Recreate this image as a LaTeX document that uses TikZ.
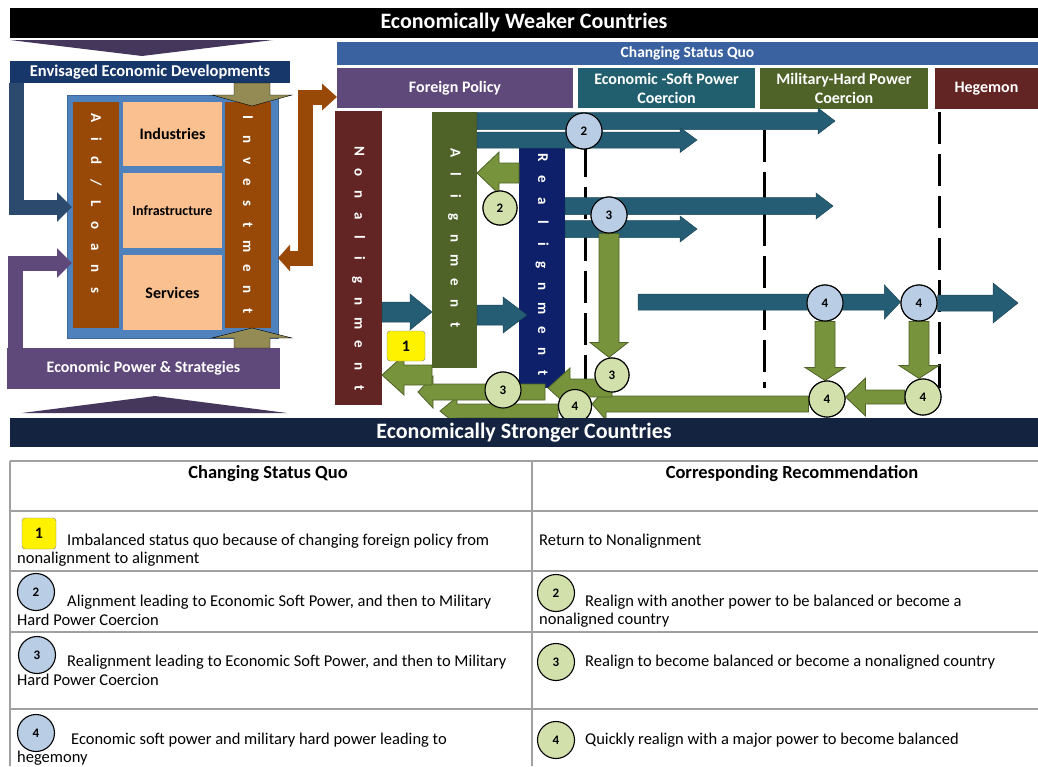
\documentclass[tikz,border=0pt]{standalone}
\usepackage{fontspec}
\setmainfont{Carlito}
\usetikzlibrary{calc,arrows.meta}

\definecolor{navybar}{HTML}{14233F}
\definecolor{chev}{HTML}{45365C}
\definecolor{envblue}{HTML}{17376A}
\definecolor{elbowblue}{HTML}{2B4A6E}
\definecolor{purp}{HTML}{5F497A}
\definecolor{frameblue}{HTML}{4F81BD}
\definecolor{rust}{HTML}{984807}
\definecolor{peach}{HTML}{FAC090}
\definecolor{khaki}{HTML}{948A54}
\definecolor{csqblue}{HTML}{3A62A0}
\definecolor{tealbox}{HTML}{215F6E}
\definecolor{olive}{HTML}{4F6228}
\definecolor{darkred}{HTML}{632523}
\definecolor{realblue}{HTML}{0E206A}
\definecolor{tealarr}{HTML}{255E74}
\definecolor{grnarr}{HTML}{77933C}
\definecolor{lblue}{HTML}{B9CDE5}
\definecolor{lgreen}{HTML}{D2E1AC}
\definecolor{tline}{HTML}{A0A0A0}

\newcommand{\fsz}[2]{\fontsize{#1}{#2}\selectfont}
\newcommand{\vword}[1]{\foreach \vletter in {#1}{\makebox[21.5pt]{\vletter}}}

\tikzset{
  panel/.style={fill=#1, anchor=north west, inner sep=0pt, outer sep=0pt, text=white,
    align=center, font=\bfseries\fsz{16}{19}},
  colbar/.style={fill=#1, anchor=north west, inner sep=0pt, outer sep=0pt},
  vtext/.style={rotate=-90, text=white, inner sep=0pt, font=\bfseries\fsz{15}{17}},
  bnum/.style={circle, draw=black, line width=1.1pt, fill=lblue, minimum size=36pt,
    inner sep=0pt, font=\bfseries\fsz{13}{15}},
  gnum/.style={bnum, fill=lgreen},
  tarrow/.style={fill=tealarr, draw=tealarr!75!black, line width=0.5pt},
  garrow/.style={fill=grnarr, draw=olive, line width=0.8pt},
  karrow/.style={fill=khaki},
  harrow/.style n args={3}{to path={
    let \p1=(\tikztostart), \p2=(\tikztotarget),
        \p3=($(\tikztotarget)!#3!(\tikztostart)$) in
    (\x1,\y1+#1) -- (\x3,\y1+#1) -- (\x3,\y1+#2) -- (\x2,\y1)
    -- (\x3,\y1-#2) -- (\x3,\y1-#1) -- (\x1,\y1-#1) -- cycle}},
  varrow/.style n args={3}{to path={
    let \p1=(\tikztostart), \p2=(\tikztotarget),
        \p3=($(\tikztotarget)!#3!(\tikztostart)$) in
    (\x1+#1,\y1) -- (\x1+#1,\y3) -- (\x1+#2,\y3) -- (\x1,\y2)
    -- (\x1-#2,\y3) -- (\x1-#1,\y3) -- (\x1-#1,\y1) -- cycle}},
  elbow/.style={line width=15pt, line join=miter, -{Triangle[length=15pt,width=29pt]}},
  dashcol/.style={line width=3pt, dash pattern=on 32pt off 10pt},
  tabline/.style={draw=tline, line width=1.2pt},
  cell/.style={anchor=west, inner sep=0pt, font=\fsz{16.5}{19}},
  cellhead/.style={inner sep=0pt, font=\bfseries\fsz{18.5}{21}}
}

\begin{document}
\begin{tikzpicture}[x=1pt,y=-1pt]
\useasboundingbox (0,0) rectangle (1038,766);

% left panel
\node[panel=black, minimum width=1028pt, minimum height=30pt, font=\bfseries\fsz{22}{24}] (weak) at (10,8) {Economically Weaker Countries};
\fill[chev] (10,40) -- (273,40) -- (142,56) -- cycle;
\node[panel=envblue, minimum width=280pt, minimum height=22pt, font=\bfseries\fsz{16.5}{19}] (envis) at (10,61) {Envisaged Economic Developments};
\node[panel=purp, minimum width=273pt, minimum height=41pt] (econpow) at (7,348) {Economic Power \& Strategies};
\fill[chev] (22,413) -- (287,413) -- (155,396) -- cycle;

\node[colbar=frameblue, draw=frameblue!80!black, line width=1pt, minimum width=211pt, minimum height=243pt] (frame) at (67,95) {};
\node[colbar=rust, minimum width=46pt, minimum height=226pt] (aid) at (73,102) {};
\node[colbar=rust, minimum width=46pt, minimum height=226pt] (invest) at (225,102) {};
\node[panel=peach, text=black, minimum width=99pt, minimum height=64pt] (ind) at (123,102) {Industries};
\node[panel=peach, text=black, minimum width=99pt, minimum height=75pt, font=\bfseries\fsz{14}{16}] (infra) at (123,173) {Infrastructure};
\node[panel=peach, text=black, minimum width=99pt, minimum height=75pt] (serv) at (123,255) {Services};
\node[vtext] at (96,204) {\vword{A,i,d,/,L,o,a,n,s}};
\node[vtext] at (248,214.5) {\vword{I,n,v,e,s,t,m,e,n,t}};

\coordinate (kt) at (252,106);
\coordinate (kb) at (252,328);
\draw[karrow] (envis.south -| kt) to[varrow={18pt}{40pt}{11pt}] (kt);
\draw[karrow] (econpow.north -| kb) to[varrow={18pt}{40pt}{10pt}] (kb);

\coordinate (ein) at (72,207);
\coordinate (pin) at (72,263);
\draw[elbow, elbowblue] ([xshift=6.5pt]envis.south west) |- (ein);
\draw[elbow, purp] ([xshift=8pt]econpow.north west) |- (pin);

% right panel
\node[panel=csqblue, minimum width=701pt, minimum height=23pt, font=\bfseries\fsz{15.5}{18}] (csq) at (337,42) {Changing Status Quo};
\node[panel=purp, minimum width=236pt, minimum height=40pt] (fp) at (337,68) {Foreign Policy};
\node[panel=tealbox, minimum width=177pt, minimum height=40pt] (esp) at (578,68) {Economic -Soft Power\\Coercion};
\node[panel=olive, minimum width=168pt, minimum height=41pt] (mhp) at (760,68) {Military-Hard Power\\Coercion};
\node[panel=darkred, minimum width=103pt, minimum height=41pt] (heg) at (935,68) {Hegemon};

\draw[elbow, rust, {Triangle[length=12pt,width=26pt]}-{Triangle[length=15pt,width=26pt]}]
  (frame.east |- 0,258) -| (305,97) -- (fp.west |- 0,97);

\node[colbar=darkred, minimum width=47pt, minimum height=294pt] (nonal) at (335,111) {};
\node[colbar=olive, minimum width=45pt, minimum height=256pt] (align) at (432,112) {};
\node[colbar=realblue, minimum width=46pt, minimum height=243pt] (realign) at (519,145) {};
\node[vtext] at (358.5,269.5) {\vword{N,o,n,a,l,i,g,n,m,e,n,t}};
\node[vtext] at (454.5,239) {\vword{A,l,i,g,n,m,e,n,t}};
\node[vtext] at (542,265.5) {\vword{R,e,a,l,i,g,n,m,e,n,t}};

\draw[dashcol] (585,145) -- (585,388);
\draw[dashcol] (764,130) -- (764,388);
\draw[dashcol] (939,112) -- (939,388);

\node[bnum] (b2) at (584,131) {2};
\node[bnum] (b3) at (609,215) {3};
\node[bnum] (b4a) at (825,303) {4};
\node[bnum] (b4b) at (919,303) {4};
\node[gnum, minimum size=34pt] (g2) at (500,208) {2};
\node[gnum, minimum size=34pt] (g3a) at (612,375) {3};
\node[gnum] (g3b) at (503,390) {3};
\node[gnum, minimum size=33pt] (g4a) at (575,406) {4};
\node[gnum] (g4b) at (827,399) {4};
\node[gnum] (g4c) at (923,397) {4};

\coordinate (t2a) at (835,121);
\coordinate (t2b) at (697,140);
\coordinate (t3a) at (833,206);
\coordinate (t3b) at (697,229);
\coordinate (t4s) at (638,302);
\coordinate (t4e) at (1018,302);
\coordinate (t1r) at (527,315);
\coordinate (g3l) at (548,388);
\coordinate (g3s) at (545,392);
\coordinate (g3e) at (418,392);
\coordinate (g4e) at (440,411);

% teal arrows
\draw[tarrow] (align.east |- 0,121) to[harrow={8.5pt}{13pt}{17pt}] (t2a);
\draw[tarrow] (align.east |- 0,140) to[harrow={8pt}{12.5pt}{17pt}] (t2b);
\draw[tarrow] (realign.east |- 0,206) to[harrow={8.5pt}{13pt}{17pt}] (t3a);
\draw[tarrow] (realign.east |- 0,229) to[harrow={8.5pt}{13pt}{17pt}] (t3b);
\draw[tarrow] (t4s) to[harrow={8pt}{17pt}{16pt}] (b4b.west);
\draw[tarrow] (b4b.east) to[harrow={8pt}{20pt}{25pt}] (t4e);
\draw[tarrow] (nonal.east |- 0,312) to[harrow={10pt}{18pt}{22pt}] (align.west |- 0,312);
\draw[tarrow] (align.east |- 0,315) to[harrow={10pt}{18pt}{24pt}] (t1r);

% green arrows
\draw[garrow] (realign.west |- 0,173) to[harrow={10pt}{21pt}{22pt}] (align.east |- 0,173);
\draw[garrow] (b3.south) to[varrow={10pt}{19pt}{15pt}] (g3a.north);
\draw[garrow] (b4a.south) to[varrow={10pt}{20pt}{13pt}] (g4b.north);
\draw[garrow] (b4b.south) to[varrow={10pt}{20pt}{13pt}] (g4c.north);
\draw[garrow] (g4c.west) to[harrow={7pt}{19pt}{20pt}] (g4b.east);
\draw[garrow] (g4b.west |- 0,404) to[harrow={8pt}{16pt}{14pt}] (g4a.east |- 0,404);
\draw[garrow] (g4a.west |- 0,411) to[harrow={7pt}{14pt}{17pt}] (g4e);
\draw[garrow] (g3a |- 0,388) to[harrow={9pt}{20pt}{22pt}] (g3l);
\draw[garrow] (g3s) to[harrow={8pt}{16pt}{15pt}] (g3e);
\draw[garrow] (align.west |- 0,375) to[harrow={10pt}{20pt}{22pt}] (nonal.east |- 0,375);

% circles again on top
\node[bnum] at (b2) {2};
\node[bnum] at (b3) {3};
\node[bnum] at (b4a) {4};
\node[bnum] at (b4b) {4};
\node[gnum, minimum size=34pt] at (g2) {2};
\node[gnum, minimum size=34pt] at (g3a) {3};
\node[gnum] at (g3b) {3};
\node[gnum, minimum size=33pt] at (g4a) {4};
\node[gnum] at (g4b) {4};
\node[gnum] at (g4c) {4};

\node[panel=yellow, text=black, draw=gray, rounded corners=3pt, minimum width=38pt, minimum height=30pt] (one) at (387,331) {1};

\node[panel=navybar, minimum width=1028pt, minimum height=29pt, font=\bfseries\fsz{22}{24}] (strong) at (10,418) {Economically Stronger Countries};

% table
\draw[tabline] (10,461) -- (1038,461);
\draw[tabline] (10,461) -- (10,766);
\draw[tabline] (532,461) -- (532,766);
\foreach \ty in {511,571,632,709} \draw[tabline] (10,\ty) -- (1038,\ty);

\node[cellhead] (hl) at (268,474) {Changing Status Quo};
\node[cellhead] (hr) at (792,474) {Corresponding Recommendation};

\node[panel=yellow, text=black, draw=gray, rounded corners=3pt, minimum width=34pt, minimum height=31pt] (k1) at (22,518) {1};
\node[cell] at (67,541) {Imbalanced status quo because of changing foreign policy from};
\node[cell] at (17,559) {nonalignment to alignment};
\node[cell] at (539,541) {Return to Nonalignment};

\node[bnum, minimum size=37pt] (k2) at (36,592) {2};
\node[cell] at (67,602) {Alignment leading to Economic Soft Power, and then to Military};
\node[cell] at (17,620) {Hard Power Coercion};
\node[gnum, minimum size=37pt] (r2) at (556,593) {2};
\node[cell] at (585,602) {Realign with another power to be balanced or become a};
\node[cell] at (539,620) {nonaligned country};

\node[bnum, minimum size=37pt] (k3) at (37,655) {3};
\node[cell] at (67,662) {Realignment leading to Economic Soft Power, and then to Military};
\node[cell] at (17,680) {Hard Power Coercion};
\node[gnum, minimum size=37pt] (r3) at (556,662) {3};
\node[cell] at (585,662) {Realign to become balanced or become a nonaligned country};

\node[bnum, minimum size=37pt] (k4) at (36,733) {4};
\node[cell] at (71,740) {Economic soft power and military hard power leading to};
\node[cell] at (17,758) {hegemony};
\node[gnum, minimum size=37pt] (r4) at (556,740) {4};
\node[cell] at (585,740) {Quickly realign with a major power to become balanced};
\end{tikzpicture}
\end{document}
